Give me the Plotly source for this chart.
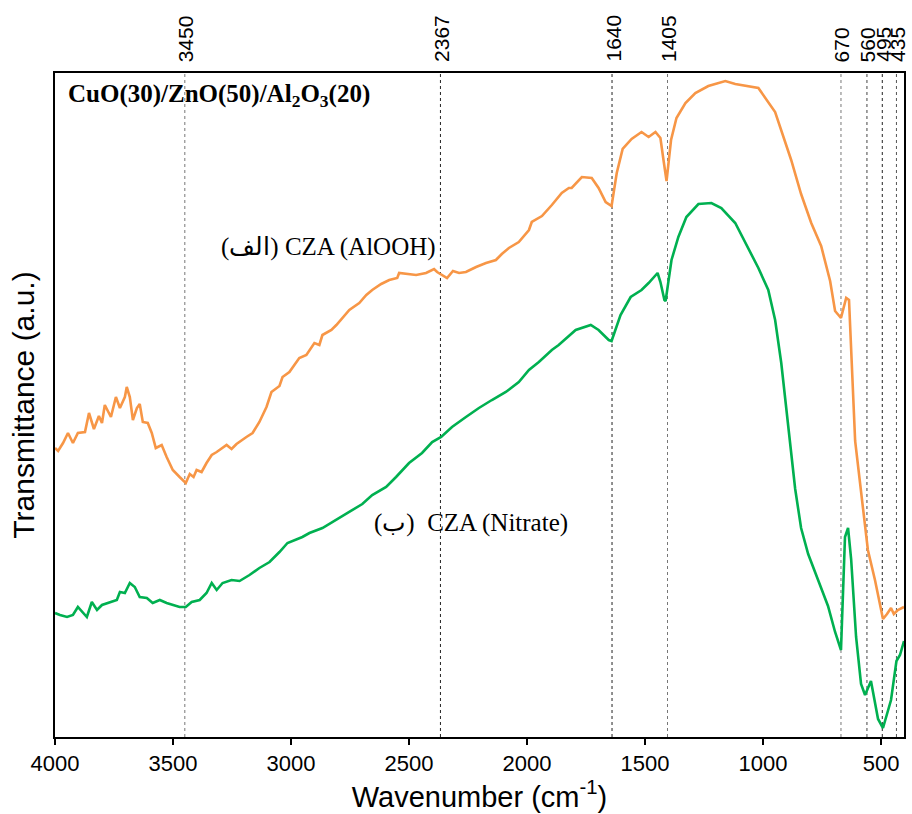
import plotly.graph_objects as go

# ---- data (wavenumber in cm-1, transmittance in arbitrary units) ----
wn_alooh = [4000, 3987, 3966, 3945, 3924, 3903, 3873, 3856, 3835, 3814, 3801, 3789, 3763, 3742, 3725,
            3704, 3696, 3683, 3670, 3653, 3641, 3628, 3607, 3590, 3573, 3548, 3527, 3501, 3472, 3446,
            3429, 3413, 3400, 3379, 3358, 3336, 3315, 3273, 3252, 3231, 3189, 3163, 3134, 3104, 3083,
            3049, 3036, 3007, 2965, 2935, 2901, 2880, 2867, 2829, 2808, 2783, 2753, 2711, 2681, 2656,
            2618, 2584, 2550, 2542, 2500, 2470, 2428, 2394, 2381, 2360, 2339, 2314, 2288, 2259, 2216,
            2174, 2132, 2107, 2077, 2035, 1992, 1980, 1937, 1895, 1853, 1823, 1811, 1768, 1726, 1697,
            1667, 1642, 1620, 1595, 1557, 1515, 1485, 1456, 1435, 1422, 1409, 1390, 1367, 1329, 1287,
            1232, 1160, 1118, 1050, 1020, 949, 881, 839, 796, 754, 716, 695, 670, 648, 636,
            610, 585, 556, 526, 505, 492, 475, 458, 446, 429, 403]
t_alooh = [289, 286, 294, 304, 294, 304, 305, 324, 308, 321, 314, 332, 320, 340, 329,
           340, 350, 340, 317, 329, 333, 315, 314, 304, 289, 292, 280, 267, 260, 254,
           263, 260, 267, 265, 274, 282, 285, 292, 288, 293, 300, 304, 315, 330, 345,
           351, 360, 365, 379, 382, 394, 392, 402, 407, 412, 419, 427, 434, 442, 447,
           453, 457, 459, 464, 463, 462, 464, 468, 465, 462, 459, 466, 464, 465, 470,
           474, 477, 483, 489, 495, 507, 515, 521, 532, 544, 549, 549, 560, 559, 549,
           535, 531, 564, 588, 598, 605, 600, 605, 599, 577, 556, 597, 619, 634, 644,
           651, 656, 653, 650, 649, 625, 577, 543, 514, 491, 456, 426, 419, 439, 437,
           296, 243, 187, 157, 131, 118, 123, 129, 123, 127, 130]

wn_nitrate = [4000, 3979, 3949, 3924, 3903, 3882, 3865, 3844, 3822, 3801, 3768, 3738, 3725, 3704, 3683,
              3662, 3641, 3611, 3586, 3556, 3527, 3501, 3472, 3446, 3421, 3387, 3358, 3336, 3315, 3290,
              3252, 3218, 3176, 3134, 3091, 3049, 3015, 2952, 2922, 2867, 2825, 2753, 2698, 2656, 2597,
              2555, 2500, 2445, 2402, 2364, 2318, 2259, 2204, 2149, 2090, 2035, 1992, 1950, 1895, 1866,
              1794, 1730, 1697, 1654, 1642, 1604, 1561, 1515, 1485, 1447, 1435, 1418, 1413, 1388, 1359,
              1325, 1274, 1219, 1177, 1118, 1075, 1020, 978, 949, 923, 894, 864, 839, 809, 767,
              725, 695, 670, 653, 640, 627, 606, 585, 568, 543, 526, 513, 492, 479, 458,
              435, 420, 403]
t_nitrate = [124, 122, 120, 122, 130, 125, 120, 135, 127, 132, 135, 137, 145, 144, 154,
             150, 140, 139, 134, 137, 134, 132, 130, 130, 135, 137, 144, 154, 147, 154,
             157, 156, 162, 169, 175, 185, 194, 200, 204, 209, 215, 225, 233, 242, 250,
             260, 274, 284, 295, 300, 310, 320, 329, 337, 345, 355, 367, 375, 387, 392,
             407, 412, 407, 397, 396, 422, 440, 447, 454, 464, 455, 437, 436, 477, 500,
             520, 533, 534, 529, 514, 494, 469, 447, 417, 374, 313, 248, 209, 183, 157,
             131, 105, 87, 200, 209, 178, 100, 53, 42, 56, 35, 18, 9, 19, 37,
             76, 82, 96]

peak_wavenumbers = [3450, 2367, 1640, 1405, 670, 560, 495, 435]
peak_labels = ["3450", "2367", "1640", "1405", "670", "560", "495", "435"]
peak_colors = ["#777777", "#222222", "#222222", "#777777", "#777777", "#444444", "#222222", "#555555"]

x_ticks = [4000, 3500, 3000, 2500, 2000, 1500, 1000, 500]

ORANGE = "#F79646"
GREEN = "#00B050"
SERIF = "Liberation Serif, Times New Roman, serif"

fig = go.Figure()
fig.add_trace(go.Scatter(x=wn_alooh, y=t_alooh, mode="lines",
                         line=dict(color=ORANGE, width=2.6), showlegend=False))
fig.add_trace(go.Scatter(x=wn_nitrate, y=t_nitrate, mode="lines",
                         line=dict(color=GREEN, width=2.6), showlegend=False))

for wn, lab, col in zip(peak_wavenumbers, peak_labels, peak_colors):
    fig.add_shape(type="line", x0=wn, x1=wn, y0=0, y1=1, xref="x", yref="paper",
                  line=dict(color=col, width=1, dash="dot"), layer="below")
    fig.add_annotation(x=wn, y=1, xref="x", yref="paper", text=lab, showarrow=False,
                       textangle=-90, xanchor="center", yanchor="bottom", yshift=9, xshift=1,
                       font=dict(family="Arial", size=21, color="black"))

fig.add_annotation(x=3952, y=642, xref="x", yref="y",
                   text="<b>CuO(30)/ZnO(50)/Al<sub>2</sub>O<sub>3</sub>(20)</b>",
                   showarrow=False, xanchor="left", yanchor="middle",
                   font=dict(family=SERIF, size=25, color="black"))
fig.add_annotation(x=2842, y=490, xref="x", yref="y",
                   text="(الف) CZA (AlOOH)",
                   showarrow=False, xanchor="center", yanchor="middle",
                   font=dict(family=SERIF, size=25, color="black"))
fig.add_annotation(x=2238, y=214, xref="x", yref="y",
                   text="(ب)  CZA (Nitrate)",
                   showarrow=False, xanchor="center", yanchor="middle",
                   font=dict(family=SERIF, size=25, color="black"))

fig.update_layout(
    width=912, height=814,
    margin=dict(l=55, r=6, t=73, b=77),
    paper_bgcolor="white", plot_bgcolor="white",
    font=dict(family="Arial", color="black"),
    xaxis=dict(range=[4000, 403], tickvals=x_ticks, ticktext=[str(v) for v in x_ticks],
               ticks="outside", ticklen=6, tickwidth=1.5, tickcolor="black",
               tickfont=dict(family="Arial", size=22, color="black"),
               showline=True, linecolor="black", linewidth=2, mirror=True,
               showgrid=False, zeroline=False,
               title=dict(text="Wavenumber (cm<sup>-1</sup>)", font=dict(family="Arial", size=29),
                          standoff=2)),
    yaxis=dict(range=[0, 664], showticklabels=False, ticks="",
               showline=True, linecolor="black", linewidth=2, mirror=True,
               showgrid=False, zeroline=False,
               title=dict(text="Transmittance (a.u.)", font=dict(family="Arial", size=30),
                          standoff=10)),
)

fig.write_html("out.html")
